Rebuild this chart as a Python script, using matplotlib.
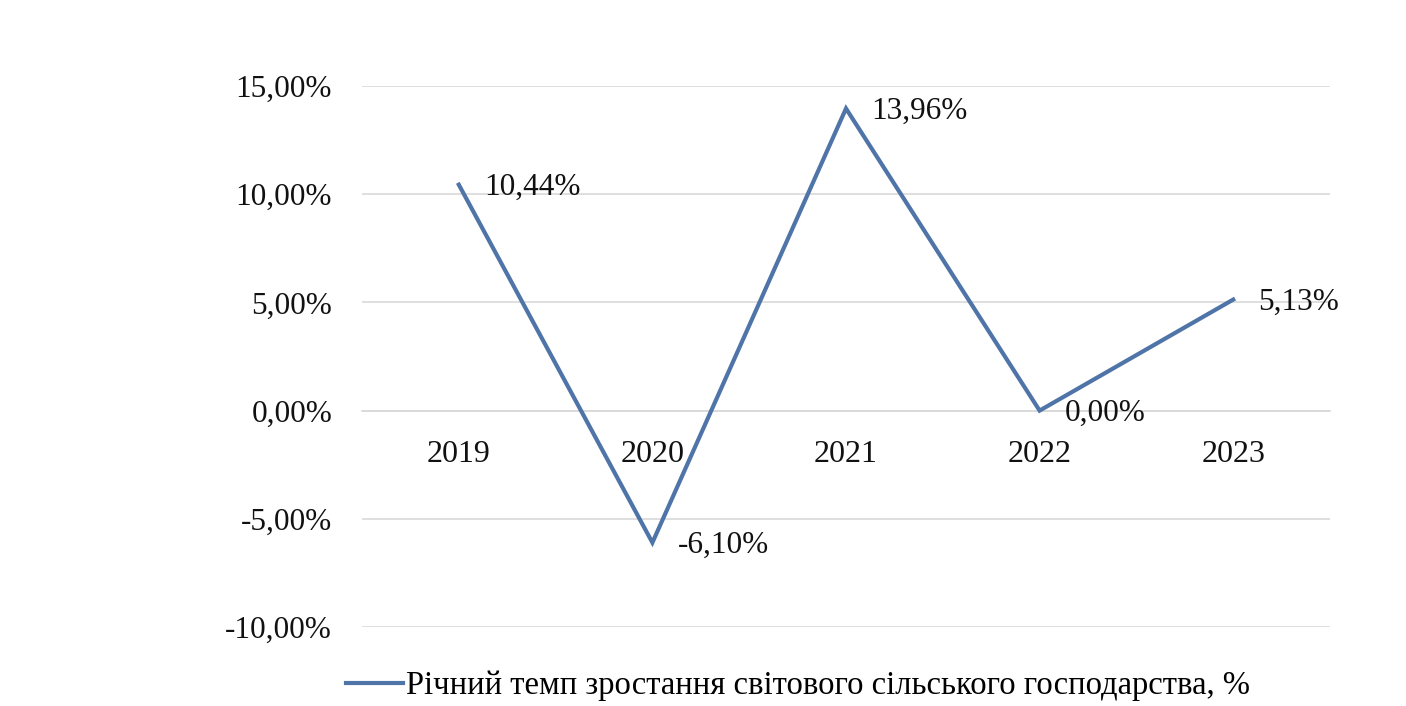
import matplotlib
matplotlib.use("Agg")
import matplotlib.pyplot as plt
from matplotlib.ticker import FuncFormatter

years = ["2019", "2020", "2021", "2022", "2023"]
growth = [10.44, -6.10, 13.96, 0.00, 5.13]
y_ticks = [-10, -5, 0, 5, 10, 15]
series_name = "Річний темп зростання світового сільського господарства, %"

plt.rcParams['font.family'] = ['Liberation Serif', 'DejaVu Serif']

W, H = 1406, 706
fig = plt.figure(figsize=(W / 100, H / 100), dpi=100)
ax = fig.add_axes([362 / W, 1 - 627 / H, (1330 - 362) / W, (627 - 86) / H])

x = list(range(len(years)))
line, = ax.plot(x, growth, color="#4f74a8", lw=3.0, solid_joinstyle="miter",
                label=series_name, zorder=3)

ax.set_xlim(-0.5, len(years) - 0.5)
ax.set_ylim(-10, 15)
ax.set_yticks(y_ticks)
ax.yaxis.set_major_formatter(FuncFormatter(lambda v, p: f"{v:.2f}%".replace(".", ",")))
ax.grid(axis="y", color="#d9d9d9", lw=1.2, zorder=0)
ax.tick_params(axis="y", length=0, pad=21.5, labelsize=22.5, labelcolor="#111111")

for s in ["top", "right", "left"]:
    ax.spines[s].set_visible(False)
ax.spines["bottom"].set_position(("data", 0))
ax.spines["bottom"].set_color("#d9d9d9")
ax.spines["bottom"].set_linewidth(1.2)
ax.set_xticks(x)
ax.set_xticklabels(years)
ax.tick_params(axis="x", length=0, pad=21, labelsize=23, labelcolor="#111111")

for xi, v in zip(x, growth):
    ax.annotate(f"{v:.2f}%".replace(".", ","), (xi, v), xytext=(18, -2),
                textcoords="offset points", ha="left", va="center",
                fontsize=22.5, color="#111111")

fig.legend(handles=[line], loc="center", bbox_to_anchor=(798 / W, 1 - 686 / H),
           frameon=False, fontsize=23.5, handlelength=1.75, handletextpad=0.1)

fig.savefig("out.png", dpi=100, facecolor="white")
